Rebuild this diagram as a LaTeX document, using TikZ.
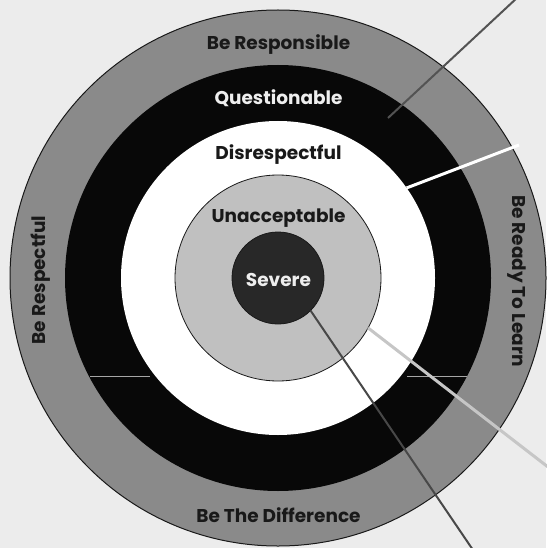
\documentclass[tikz,border=0pt]{standalone}
\usepackage{fontspec}
\setmainfont{Poppins}
\definecolor{bgc}{RGB}{236,236,236}
\definecolor{ringgray}{RGB}{138,138,138}
\definecolor{ringblack}{RGB}{8,8,8}
\definecolor{unagray}{RGB}{192,192,192}
\definecolor{sevdark}{RGB}{40,40,40}
\definecolor{txtdark}{RGB}{25,25,25}
\definecolor{txtlight}{RGB}{238,238,238}
\begin{document}
\begin{tikzpicture}[x=1pt,y=-1pt,
  ring/.style={circle, inner sep=0pt, outer sep=0pt},
  lbl/.style={font=\bfseries\fontsize{18.5}{20}\selectfont, inner sep=0pt},
  seam/.style={draw=gray!70, line width=1pt},
  pointer/.style={line width=2pt}]
\fill[bgc] (0,0) rectangle (546,548);
\useasboundingbox (0,0) rectangle (546,548);
\node[ring, minimum size=536pt, fill=ringgray, draw=txtdark, line width=1pt] (outer) at (278,278) {};
\node[ring, minimum size=426pt, fill=ringblack] (black) at (278,278) {};
\node[ring, minimum size=314pt, fill=white] (dis) at (278,278) {};
\node[ring, minimum size=206pt, fill=unagray, draw=txtdark, line width=0.8pt] (una) at (278,278) {};
\node[ring, minimum size=92pt, fill=sevdark, draw=txtdark, line width=0.8pt] (sev) at (278,278) {};
% seams across the black ring
\coordinate (sl1) at (90,376); \coordinate (sl2) at (150,376);
\coordinate (sr1) at (407,376); \coordinate (sr2) at (467,376);
\draw[seam] (sl1) -- (sl2);
\draw[seam] (sr1) -- (sr2);
% labels
\node[lbl, text=txtdark] (tresp) at (278.5,45) {Be Responsible};
\node[lbl, text=txtlight] (tq) at (278.5,98) {Questionable};
\node[lbl, text=txtdark] (td) at (278.5,155) {Disrespectful};
\node[lbl, text=txtdark] (tu) at (278.5,218) {Unacceptable};
\node[lbl, text=txtlight] (ts) at (278.5,280) {Severe};
\node[lbl, text=txtdark, rotate=90] (trsp) at (41,280) {Be Respectful};
\node[lbl, text=txtdark, rotate=-90] (trdy) at (517,281) {Be Ready To Learn};
\node[lbl, text=txtdark] (tdiff) at (278.5,515) {Be The Difference};
% pointers
\coordinate (qstart) at (388,118);
\coordinate (qend) at (518,-3);
\coordinate (dend) at (519,145);
\coordinate (uend) at (548,467);
\coordinate (send) at (473,550);
\draw[pointer, draw=sevdark!80] (qstart) -- (qend);
\draw[pointer, draw=white, line width=3pt] (dis.35.5) -- (dend);
\draw[pointer, draw=unagray!90, line width=3pt] (una.-29) -- (uend);
\draw[pointer, draw=sevdark!85] (sev.-45) -- (send);
\end{tikzpicture}
\end{document}
